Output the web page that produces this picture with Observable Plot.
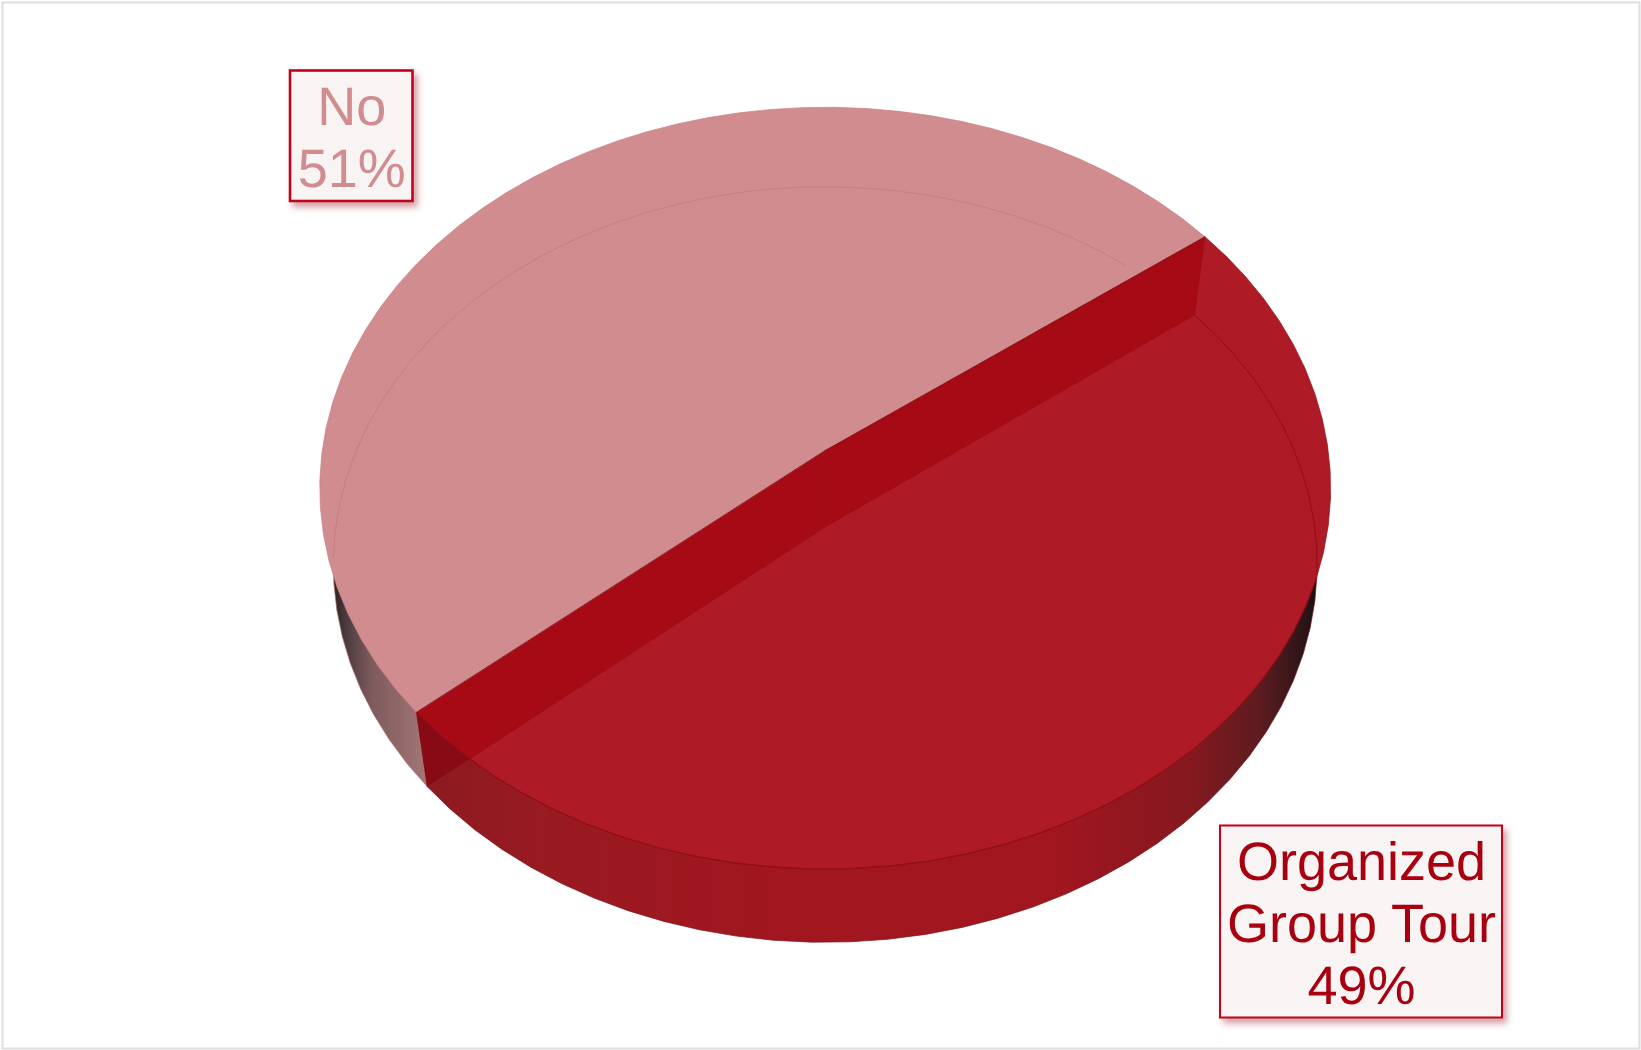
<!DOCTYPE html>
<html>
<head>
<meta charset="utf-8">
<title>Organized Group Tour</title>
<style>
  html, body { margin: 0; padding: 0; background: #fff; }
  svg { display: block; max-width: none; text-rendering: geometricPrecision; }
</style>
<script src="https://cdn.jsdelivr.net/npm/d3@7"></script>
<script src="https://cdn.jsdelivr.net/npm/@observablehq/plot@0.6"></script>
</head>
<body>
<div id="chart"></div>
<script>
// Survey shares
const categories = ["Organized\nGroup Tour", "No"];
const shares = [49, 51];

// Colours
const topColors = ["#ae1a25", "#d08c8e"];
const textColors = ["#a8000f", "#d08c8e"];
const wallColor = "#a50a15";
const cornerColor = "#870a14";
const boxStroke = "#c4001a";
const boxFill = "#f8f4f4";
const redSideStops = [[428, "#8c1a20"], [540, "#991a22"], [800, "#a2161f"], [1050, "#a2161f"], [1190, "#85181f"], [1260, "#5c1c20"], [1305, "#2a1416"], [1320, "#111111"]];
const pinkSideStops = [[326, "#1c1416"], [345, "#4a3a3c"], [370, "#7c5a5c"], [428, "#a67678"]];

// Label boxes, in the same order as the shares
const boxLeft = [1220, 290];
const boxRight = [1502, 412.5];
const boxTop = [825.5, 70.5];
const boxBottom = [1017.5, 201];
const boxStrokeWidth = [2, 2.6];
const lastBaseline = [1003.3, 186];

// The two disks of the pie, seen in perspective from above
const upperDisk = {cx: 824.7, cy: 450, A: 503, B: 377.2, w: 0.099};
const lowerDisk = {cx: 824.7, cy: 526.4, A: 489.5, B: 374, w: 0.0997};
const startAngle = -36.9;
const step = 4;

function project(d, deg) {
  const t = deg * Math.PI / 180, u = Math.cos(t), v = Math.sin(t), q = 1 - d.w * v;
  return {x: d.cx + d.A * u / q, y: d.cy + d.B * v / q};
}
// Back from the page to the unit disk
function unproject(d, p) {
  const X = p.x - d.cx, Y = p.y - d.cy, q = d.B + d.w * Y;
  return {u: X * d.B / (d.A * q), v: Y / q};
}
const inside = (d, p) => { const c = unproject(d, p); return c.u * c.u + c.v * c.v <= 1; };
const angleOn = (d, p) => { const c = unproject(d, p); return Math.atan2(c.v, c.u) * 180 / Math.PI; };
function arc(d, a0, a1) {
  const n = Math.max(1, Math.round(Math.abs(a1 - a0) / step));
  return d3.range(n + 1).map(i => project(d, a0 + (a1 - a0) * i / n));
}
const apex = d => ({x: d.cx, y: d.cy});
const sector = (d, a0, a1) => [apex(d), ...arc(d, a0, a1)];

// Slice boundaries from the shares
const total = d3.sum(shares);
const sweep = shares[0] / total * 360;
const a0 = startAngle, a1 = startAngle + sweep, a2 = startAngle + 360;

// Where the lower edge of the wall leaves the upper disk
function wallExit() {
  const s = apex(lowerDisk), e = project(lowerDisk, a1);
  let lo = 0, hi = 1;
  for (let i = 0; i < 40; ++i) {
    const m = (lo + hi) / 2;
    if (inside(upperDisk, {x: s.x + (e.x - s.x) * m, y: s.y + (e.y - s.y) * m})) lo = m; else hi = m;
  }
  return {x: s.x + (e.x - s.x) * lo, y: s.y + (e.y - s.y) * lo};
}
const exitPoint = wallExit();
const exitAngle = angleOn(upperDisk, exitPoint);

const wall = [project(upperDisk, a0), project(lowerDisk, a0), apex(lowerDisk), project(lowerDisk, a1), project(upperDisk, a1), apex(upperDisk)];
const corner = [...arc(upperDisk, a1, exitAngle), project(lowerDisk, a1)];
const redRim = arc(lowerDisk, a0, a1).filter(p => inside(upperDisk, p));
const frontRim = arc(upperDisk, a0, a1).filter(p => inside(lowerDisk, p));
const pinkRim = arc(lowerDisk, a1, a2).filter(p => {
  if (!inside(upperDisk, p)) return false;
  const t = (angleOn(upperDisk, p) - a1 + 720) % 360;
  return t <= 360 - sweep;
});

const labels = categories.map((c, i) => ({
  text: `${c}\n${shares[i]}%`, color: textColors[i], sw: boxStrokeWidth[i],
  x1: boxLeft[i], x2: boxRight[i], y1: boxTop[i], y2: boxBottom[i],
  xc: (boxLeft[i] + boxRight[i]) / 2, y: lastBaseline[i]
}));

// Gradients for the outer wall and the drop shadow of the boxes
function defsMark(index, scales) {
  const g = d3.create("svg:g");
  const defs = g.append("defs");
  const grad = (id, stops) => {
    const lg = defs.append("linearGradient").attr("id", id).attr("gradientUnits", "userSpaceOnUse")
      .attr("x1", scales.x(stops[0][0])).attr("x2", scales.x(stops[stops.length - 1][0])).attr("y1", 0).attr("y2", 0);
    const span = stops[stops.length - 1][0] - stops[0][0];
    for (const [x, c] of stops) lg.append("stop").attr("offset", (x - stops[0][0]) / span).attr("stop-color", c);
  };
  grad("redSide", redSideStops);
  grad("pinkSide", pinkSideStops);
  defs.append("filter").attr("id", "boxShadow").attr("x", "-10%").attr("y", "-10%").attr("width", "125%").attr("height", "125%")
    .append("feDropShadow").attr("dx", 4).attr("dy", 5).attr("stdDeviation", 3).attr("flood-color", "#a8404c").attr("flood-opacity", 0.5);
  return g.node();
}

const xy = {x: "x", y: "y"};
const shape = (pts, opts) => Plot.line(pts, {...xy, curve: "linear", ...opts});
const withShadow = (index, scales, values, dims, ctx, next) => {
  const node = next(index, scales, values, dims, ctx);
  node.setAttribute("filter", "url(#boxShadow)");
  return node;
};

const chart = Plot.plot({
  width: 1641,
  height: 1050,
  margin: 0,
  style: {background: "#fff", fontFamily: "'Liberation Sans', Arial, sans-serif"},
  x: {axis: null, domain: [0, 1641], range: [0, 1641]},
  y: {axis: null, domain: [0, 1050], range: [0, 1050]},
  marks: [
    Plot.frame({stroke: "#dedede", strokeWidth: 2, inset: 2}),
    defsMark,
    shape(sector(lowerDisk, a0, a1), {fill: "url(#redSide)", stroke: "#7a1218", strokeWidth: 0.7}),
    shape(sector(lowerDisk, a1, a2), {fill: "url(#pinkSide)", stroke: "#b0686c", strokeWidth: 0.7}),
    shape(sector(upperDisk, a0, a1), {fill: topColors[0], stroke: "#8f0f17", strokeWidth: 0.7}),
    shape(wall, {fill: wallColor, stroke: "#98101a", strokeWidth: 0.7}),
    shape(corner, {fill: cornerColor, stroke: "#7c0a12", strokeWidth: 0.6}),
    shape(redRim, {stroke: "#930d16", strokeWidth: 1}),
    shape(frontRim, {stroke: "#8f0f17", strokeWidth: 1.1}),
    shape(sector(upperDisk, a1, a2), {fill: topColors[1], stroke: "#cc7f83", strokeWidth: 0.7}),
    shape([project(upperDisk, a1), apex(upperDisk), project(upperDisk, a0)], {stroke: "#7d0a12", strokeWidth: 0.8}),
    shape(pinkRim, {stroke: "#c67f82", strokeWidth: 1}),
    shape([apex(upperDisk), apex(lowerDisk)], {stroke: "#98101a", strokeWidth: 0.8}),
    Plot.rect(labels, {x1: "x1", x2: "x2", y1: "y1", y2: "y2", fill: boxFill, stroke: boxStroke, strokeWidth: "sw", render: withShadow}),
    Plot.text(labels, {x: "xc", y: "y", text: "text", fill: "color", fontSize: 54, lineHeight: 1.148, lineAnchor: "bottom", textAnchor: "middle"})
  ]
});
document.getElementById("chart").append(chart);
</script>
</body>
</html>
